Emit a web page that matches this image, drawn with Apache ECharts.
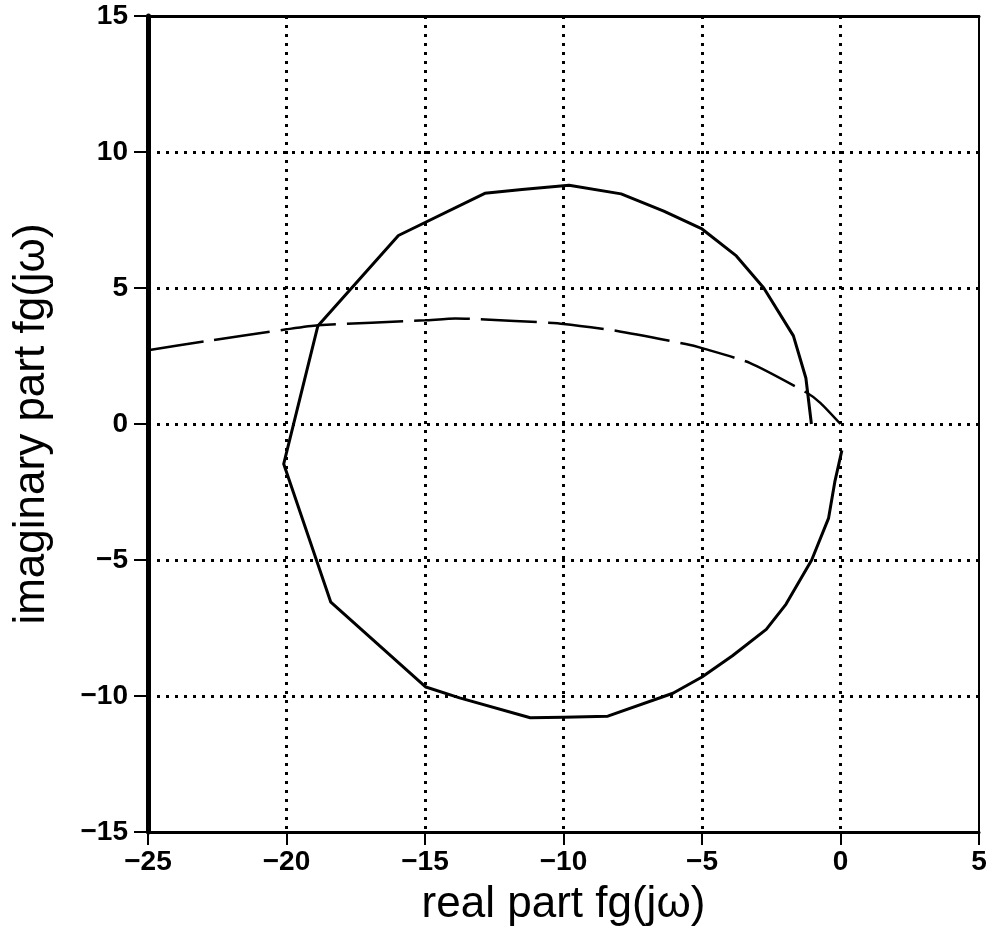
<!DOCTYPE html>
<html>
<head>
<meta charset="utf-8">
<script src="https://cdn.jsdelivr.net/npm/echarts@6/dist/echarts.min.js"></script>
<style>
html,body{margin:0;padding:0;background:#fff;}
#chart{width:990px;height:928px;}
</style>
</head>
<body>
<div id="chart"></div>
<script>
// Solid curve (real, imaginary)
const solidReal = [-1.05, -1.25, -1.7, -2.77, -3.76, -5.0, -6.38, -7.92, -9.8, -11.5, -12.84, -15.96, -18.87, -20.1, -18.4, -14.97, -13.75, -11.2, -10.0, -8.4, -6.05, -5.0, -3.9, -2.68, -1.97, -1.04, -0.43, -0.2, 0.05];
const solidImag = [0.0, 1.69, 3.24, 5.0, 6.18, 7.17, 7.83, 8.46, 8.78, 8.62, 8.48, 6.93, 3.6, -1.47, -6.55, -9.67, -10.07, -10.8, -10.78, -10.74, -9.9, -9.3, -8.52, -7.55, -6.63, -5.0, -3.46, -2.1, -0.97];
// Dashed curve (real, imaginary)
const dashedReal = [-25, -22.95, -20, -18.87, -15, -13.9, -11.76, -10, -8.06, -5.59, -5, -3.26, -1.2, -0.72, 0];
const dashedImag = [2.71, 3.04, 3.48, 3.63, 3.81, 3.88, 3.79, 3.68, 3.42, 2.94, 2.79, 2.24, 1.14, 0.77, 0];
// Axis ranges / tick labels
const xTicks = [-25, -20, -15, -10, -5, 0, 5];
const yTicks = [-15, -10, -5, 0, 5, 10, 15];
const xName = 'real part fg(jω)';
const yName = 'imaginary part fg(jω)';

const fmt = v => String(v).replace('-', '\u2212');
const dots = {type: [3, 6], width: 3, color: '#000'};
const labelFont = {fontFamily: 'Liberation Sans', fontWeight: 'bold', fontSize: 28, color: '#000'};

const chart = echarts.init(document.getElementById('chart'), null, {renderer: 'canvas'});
chart.setOption({
  backgroundColor: '#fff',
  animation: false,
  grid: {left: 148, right: 11, top: 16, bottom: 96, containLabel: false, outerBoundsMode: 'none'},
  xAxis: [{
    type: 'value', position: 'bottom',
    min: xTicks[0], max: xTicks[xTicks.length - 1], interval: 5,
    name: xName, nameLocation: 'middle', nameGap: 51,
    nameTextStyle: {fontFamily: 'Liberation Sans', fontSize: 44, color: '#000'},
    axisLine: {show: true, onZero: false, lineStyle: {color: '#000', width: 3}},
    axisTick: {show: true, inside: false, length: 13, lineStyle: {color: '#000', width: 2}},
    axisLabel: Object.assign({margin: 16, formatter: fmt}, labelFont),
    splitLine: {show: true, showMinLine: false, showMaxLine: false, lineStyle: dots}
  }, {
    type: 'value', position: 'top',
    min: xTicks[0], max: xTicks[xTicks.length - 1], interval: 5,
    axisLine: {show: true, onZero: false, lineStyle: {color: '#000', width: 3}},
    axisTick: {show: false}, axisLabel: {show: false}, splitLine: {show: false}
  }],
  yAxis: [{
    type: 'value', position: 'left',
    min: yTicks[0], max: yTicks[yTicks.length - 1], interval: 5,
    name: yName, nameLocation: 'middle', nameGap: 94, nameRotate: 90,
    nameTextStyle: {fontFamily: 'Liberation Sans', fontSize: 44, color: '#000'},
    axisLine: {show: true, onZero: false, lineStyle: {color: '#000', width: 5}},
    axisTick: {show: true, inside: false, length: 14, lineStyle: {color: '#000', width: 2}},
    axisLabel: Object.assign({margin: 20, formatter: fmt}, labelFont),
    splitLine: {show: true, showMinLine: false, showMaxLine: false, lineStyle: dots}
  }, {
    type: 'value', position: 'right',
    min: yTicks[0], max: yTicks[yTicks.length - 1], interval: 5,
    axisLine: {show: true, onZero: false, lineStyle: {color: '#000', width: 2}},
    axisTick: {show: false}, axisLabel: {show: false}, splitLine: {show: false}
  }],
  series: [{
    type: 'line',
    data: solidReal.map((x, i) => [x, solidImag[i]]),
    showSymbol: false, symbol: 'none',
    lineStyle: {color: '#000', width: 3, join: 'round'},
    z: 5
  }, {
    type: 'line',
    data: dashedReal.map((x, i) => [x, dashedImag[i]]),
    showSymbol: false, symbol: 'none', smooth: 0.2,
    lineStyle: {color: '#000', width: 2.5, type: [56, 11]},
    z: 5
  }]
});
</script>
</body>
</html>
